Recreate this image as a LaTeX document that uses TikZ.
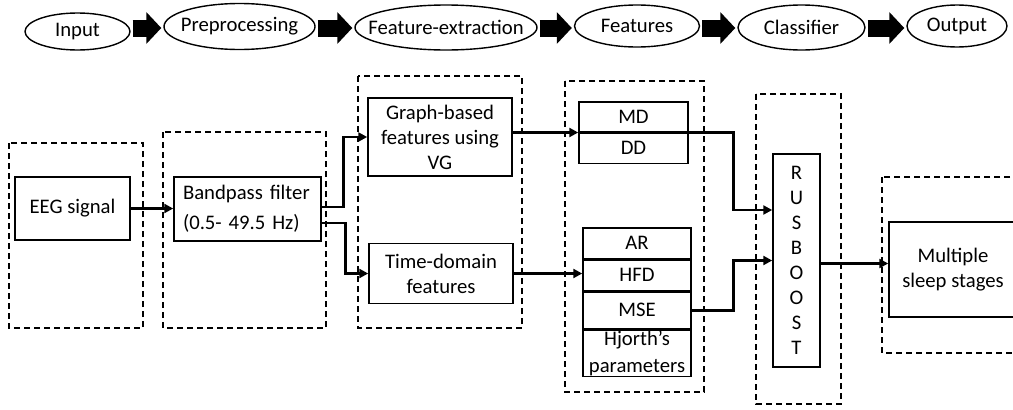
\documentclass[tikz,border=0pt]{standalone}
\usepackage{fontspec}
\setmainfont{Carlito}
\usetikzlibrary{arrows.meta,shapes.geometric}
\begin{document}
\begin{tikzpicture}[x=1pt,y=-1pt,font=\fontsize{20.7}{25}\selectfont,
  ell/.style={draw, ellipse, line width=1.4pt, inner sep=0pt},
  blockarr/.style={line width=17pt, -{Triangle[length=15pt,width=31pt]}, shorten <=2pt, shorten >=2pt},
  box/.style={draw, line width=1.5pt, inner sep=0pt, align=center},
  cell/.style={draw, line width=1.5pt, inner sep=0pt, align=center, anchor=north},
  grp/.style={draw, line width=1.1pt, dash pattern=on 6pt off 4pt},
  conn/.style={line width=2.6pt, -{Triangle[length=9pt,width=9pt]}}]
\useasboundingbox (0,0) rectangle (1013,410);
\clip (0,0) rectangle (1013,410);
\fill[white] (0,0) rectangle (1013,410);

% top pipeline
\node[ell, minimum width=105pt, minimum height=37pt, label={center:Input}] (in) at (77.5,31.5) {};
\node[ell, minimum width=151pt, minimum height=46pt, label={center:Preprocessing}] (pre) at (239.5,26.5) {};
\node[ell, minimum width=182pt, minimum height=45pt, label={center:Feature-extraction}] (fe) at (446,27.5) {};
\node[ell, minimum width=125pt, minimum height=42pt, label={center:Features}] (feat) at (637,26) {};
\node[ell, minimum width=127pt, minimum height=45pt, label={center:Classifier}] (cls) at (801.5,27.5) {};
\node[ell, minimum width=100pt, minimum height=42pt, label={center:Output}] (out) at (957,26) {};
\coordinate (ya) at (0,28);
\draw[blockarr] (in.east |- ya) -- (pre.west |- ya);
\draw[blockarr] (pre.east |- ya) -- (fe.west |- ya);
\draw[blockarr] (fe.east |- ya) -- (feat.west |- ya);
\draw[blockarr] (feat.east |- ya) -- (cls.west |- ya);
\draw[blockarr] (cls.east |- ya) -- (out.west |- ya);

% dashed groups
\draw[grp] (9,143) rectangle (143,328);
\draw[grp] (163,132) rectangle (326,328);
\draw[grp] (358,76) rectangle (522,328);
\draw[grp] (565,81) rectangle (704,392);
\draw[grp] (756,94) rectangle (841,404);
\draw[grp] (882,177) rectangle (1030,353);

% boxes
\node[box, minimum width=115pt, minimum height=63pt] (eeg) at (72.5,208.5) {EEG signal};
\node[box, minimum height=64pt, text width=129pt, inner xsep=9pt, align=left,
      font=\fontsize{20.7}{30}\selectfont] (bp) at (247.5,209) {Bandpass filter\\(0.5- 49.5 Hz)};
\node[box, minimum width=144pt, minimum height=78pt] (graph) at (440,137) {Graph-based\\features using\\VG};
\node[box, minimum width=144pt, minimum height=60pt] (td) at (441,273.5) {Time-domain\\features};

\node[cell, minimum width=109pt, minimum height=30pt] (md) at (633.5,101) {MD};
\node[cell, minimum width=109pt, minimum height=30pt] (dd) at (md.south) {DD};

\node[cell, minimum width=108pt, minimum height=31pt] (ar) at (637,227) {AR};
\node[cell, minimum width=108pt, minimum height=30pt] (hfd) at (ar.south) {HFD};
\node[cell, minimum width=108pt, minimum height=37pt] (mse) at (hfd.south) {\raisebox{-3.5pt}{MSE}};
\node[cell, minimum width=108pt, minimum height=46pt, font=\fontsize{20.7}{27}\selectfont] (hj) at (mse.south) {Hjorth’s\\parameters};

\node[box, minimum width=47pt, minimum height=213pt, font=\fontsize{20.7}{25.1}\selectfont] (rus) at (796.5,260.5) {R\\U\\S\\B\\O\\O\\S\\T};
\node[box, minimum width=128pt, minimum height=95pt] (ms) at (953,269.5) {Multiple\\sleep stages};

% connectors
\draw[conn] (eeg.east) -- (eeg.east -| bp.west);
\draw[conn] ([yshift=2pt]bp.east) -- ++(22,0) |- (graph.west);
\draw[conn] ([yshift=-14pt]bp.east) -- ++(24,0) |- (td.west);
\draw[conn] (graph.east |- md.south west) -- (md.south west);
\draw[conn] (td.east) -- (td.east -| hfd.west);
\coordinate (ru) at ([yshift=50.5pt]rus.west);
\draw[conn] (md.south east) -- ++(45,0) |- (ru);
\draw[conn] (mse.east) -- ++(42,0) |- (rus.west);
\coordinate (r1) at ([yshift=-3pt]rus.east);
\draw[conn] (r1) -- (r1 -| ms.west);
\end{tikzpicture}
\end{document}
